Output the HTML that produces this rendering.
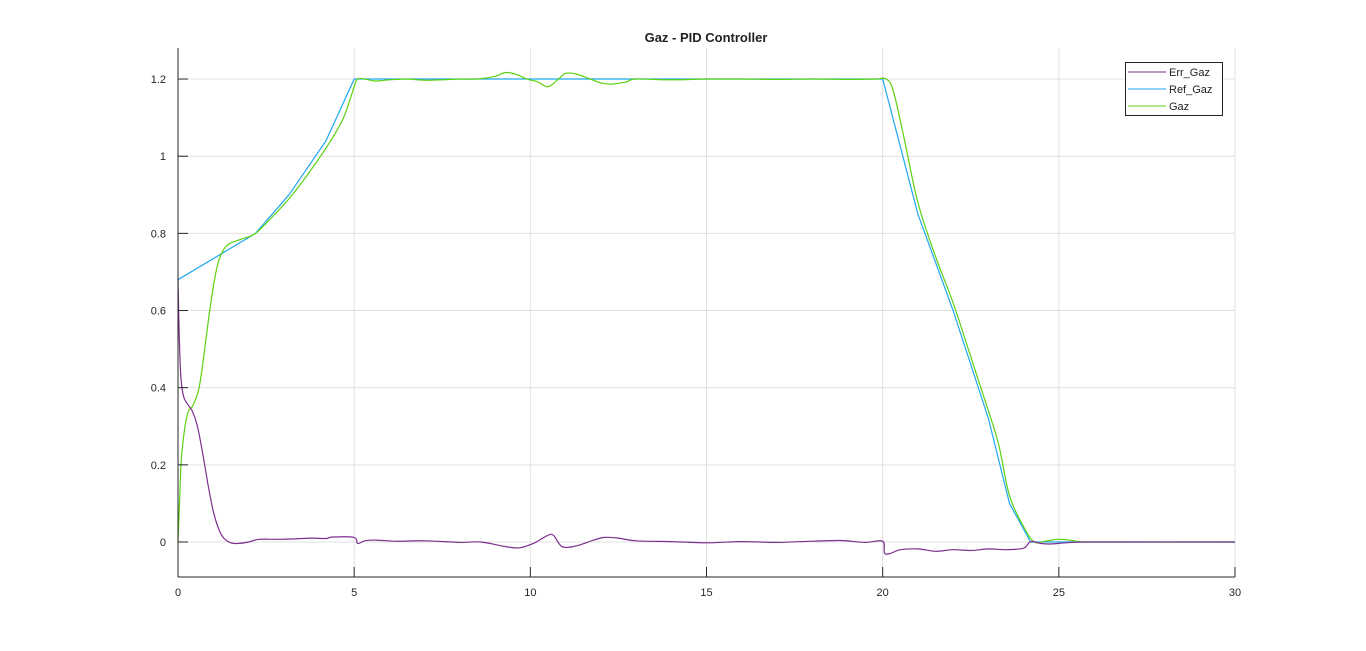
<!DOCTYPE html>
<html><head><meta charset="utf-8"><style>
body{margin:0;background:#fff;}
svg{display:block;font-family:"Liberation Sans",sans-serif;}
</style></head><body>
<svg id="chart" width="1366" height="651">
<rect width="1366" height="651" fill="#fff"/>
<g id="grid"></g>
<g id="series"></g>
<g id="axes"></g>
<text x="706" y="42" text-anchor="middle" font-size="13" font-weight="bold" fill="#222">Gaz - PID Controller</text>
<g>
<rect x="1125.5" y="62.5" width="97" height="53" fill="#fff" stroke="#222"/>
<line x1="1128" y1="72" x2="1166" y2="72" stroke="#7E2F8E"/>
<text x="1169" y="76" font-size="11" fill="#222">Err_Gaz</text>
<line x1="1128" y1="89" x2="1166" y2="89" stroke="#1EA7F0"/>
<text x="1169" y="93" font-size="11" fill="#222">Ref_Gaz</text>
<line x1="1128" y1="106" x2="1166" y2="106" stroke="#5CD10F"/>
<text x="1169" y="110" font-size="11" fill="#222">Gaz</text>
</g>
</svg>
<script>
const xTicks=[0,5,10,15,20,25,30];
const yTicks=[0,0.2,0.4,0.6,0.8,1,1.2];
const yTickLabels=["0","0.2","0.4","0.6","0.8","1","1.2"];
const refT=[0,2.2,3.15,4.2,5.0,20.0,21.0,22.0,23.0,23.6,24.2,30];
const refV=[0.68,0.80,0.90,1.04,1.20,1.20,0.85,0.60,0.32,0.10,0,0];
const gazT=[0,0.05,0.1,0.2,0.3,0.4,0.5,0.6,0.7,0.8,0.9,1.0,1.1,1.2,1.35,1.5,1.8,2.2,2.7,3.2,3.7,4.3,4.7,5.0,5.1,5.3,5.6,6,6.5,7,7.5,8,8.5,9,9.3,9.6,9.9,10.2,10.5,10.8,11,11.3,11.7,12,12.3,12.7,13,14,15,16,17,18,19,19.8,20.1,20.3,20.6,21,21.5,22,22.5,23,23.3,23.6,24.0,24.3,24.6,25,25.4,26,30];
const gazV=[0,0.12,0.22,0.3,0.34,0.35,0.37,0.4,0.46,0.53,0.6,0.66,0.71,0.74,0.765,0.775,0.785,0.80,0.845,0.895,0.955,1.035,1.1,1.18,1.2,1.2,1.195,1.198,1.2,1.197,1.198,1.2,1.2,1.207,1.217,1.212,1.2,1.193,1.18,1.2,1.215,1.213,1.2,1.19,1.187,1.192,1.2,1.198,1.2,1.2,1.199,1.2,1.199,1.2,1.2,1.17,1.05,0.88,0.74,0.62,0.48,0.34,0.25,0.12,0.04,0.0,0.002,0.007,0.004,0,0];
const errT=[0,0.03,0.08,0.15,0.25,0.4,0.55,0.7,0.85,1.0,1.15,1.3,1.5,1.7,2.0,2.3,2.8,3.3,3.8,4.2,4.4,5.0,5.1,5.3,5.6,6.2,7,8,8.6,9.3,9.7,10.1,10.45,10.65,10.9,11.3,11.8,12.1,12.5,13,14,15,16,17,18,18.8,19.5,20,20.05,20.2,20.5,21,21.5,22,22.5,23,23.5,24.0,24.2,24.5,24.8,25.2,26,30];
const errV=[0.68,0.55,0.43,0.38,0.36,0.34,0.3,0.23,0.15,0.08,0.035,0.01,-0.002,-0.004,0,0.007,0.007,0.008,0.01,0.009,0.013,0.012,-0.004,0.003,0.005,0.002,0.003,-0.001,0,-0.012,-0.015,-0.003,0.015,0.018,-0.012,-0.01,0.005,0.012,0.01,0.003,0.001,-0.002,0.001,-0.001,0.002,0.004,-0.001,0.002,-0.028,-0.03,-0.02,-0.018,-0.024,-0.02,-0.022,-0.018,-0.02,-0.016,0.001,-0.004,-0.005,-0.002,0,0];
const X0=178,X1=1235,Y0=542,YS=385.8,YB=577,YT=48;
const sx=t=>X0+(X1-X0)*t/30;
const sy=v=>Y0-v*YS;
const NS="http://www.w3.org/2000/svg";
const mk=(tag,at,parent)=>{const e=document.createElementNS(NS,tag);for(const k in at)e.setAttribute(k,at[k]);parent.appendChild(e);return e;};
const grid=document.getElementById('grid'),axes=document.getElementById('axes'),ser=document.getElementById('series');
xTicks.forEach(t=>{
 const g=mk('line',{x1:sx(t),x2:sx(t),y1:YT,y2:YB,stroke:'#e0e0e0'},grid);
 
 
 const tk=mk('line',{x1:sx(t),x2:sx(t),y1:YB,y2:YB-10,stroke:'#262626'},axes);
 
 
 const l=mk('text',{x:sx(t),y:YB+19,'text-anchor':'middle','font-size':11,fill:'#262626'},axes);
 l.textContent=String(t);
 
 
});
yTicks.forEach((v,i)=>{
 const g=mk('line',{x1:X0,x2:X1,y1:sy(v),y2:sy(v),stroke:'#e0e0e0'},grid);
 
 
 const tk=mk('line',{x1:X0,x2:X0+10,y1:sy(v),y2:sy(v),stroke:'#262626'},axes);
 
 
 const l=mk('text',{x:X0-12,y:sy(v)+4,'text-anchor':'end','font-size':11,fill:'#262626'},axes);
 l.textContent=yTickLabels[i];
 
 
});
const ax=mk('line',{x1:X0,x2:X0,y1:YT,y2:YB,stroke:'#262626'},axes);


const bx=mk('line',{x1:X0,x2:X1,y1:YB,y2:YB,stroke:'#262626'},axes);


function pathD(T,V,smooth){
 const P=T.map((t,i)=>[sx(t),sy(V[i])]);
 let d='M'+P[0][0].toFixed(1)+','+P[0][1].toFixed(1);
 for(let i=0;i<P.length-1;i++){
  if(!smooth){d+=' L'+P[i+1][0].toFixed(1)+','+P[i+1][1].toFixed(1);continue;}
  const p0=P[Math.max(0,i-1)],p1=P[i],p2=P[i+1],p3=P[Math.min(P.length-1,i+2)];
  const c1=[p1[0]+(p2[0]-p0[0])/6,p1[1]+(p2[1]-p0[1])/6];
  const c2=[p2[0]-(p3[0]-p1[0])/6,p2[1]-(p3[1]-p1[1])/6];
  d+=' C'+c1.map(n=>n.toFixed(1)).join(',')+' '+c2.map(n=>n.toFixed(1)).join(',')+' '+p2.map(n=>n.toFixed(1)).join(',');
 }
 return d;
}
function draw(T,V,color,name,smooth){
 const p=mk('path',{d:pathD(T,V,smooth),fill:'none',stroke:color,'stroke-width':1.2,'stroke-linejoin':'round'},ser);
 
 
}
draw(refT,refV,'#1EA7F0','ref-gaz-line',false);
draw(gazT,gazV,'#5CD10F','gaz-line',true);
draw(errT,errV,'#7E2F8E','err-gaz-line',true);
</script>
</body></html>
